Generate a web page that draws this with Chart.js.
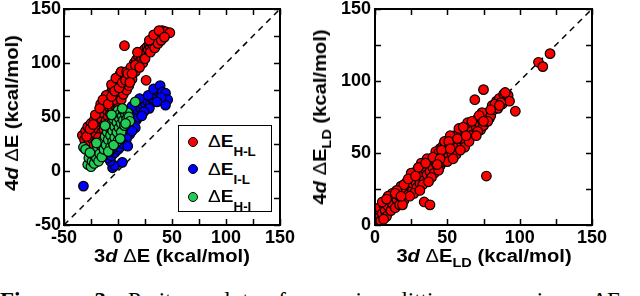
<!DOCTYPE html>
<html>
<head>
<meta charset="utf-8">
<script src="https://cdn.jsdelivr.net/npm/chart.js@4.4.1/dist/chart.umd.min.js"></script>
<style>
  html, body { margin:0; padding:0; background:#fff; }
  body { width:640px; height:296px; position:relative; overflow:hidden; font-family:"Liberation Sans", Arial, sans-serif; }
  canvas { position:absolute; }
  .t { position:absolute; font-size:18px; font-weight:bold; line-height:20px; white-space:nowrap; color:#000; }
  .t .dl { font-weight:normal; }
  .t sub { font-size:13px; vertical-align:-5px; line-height:0; }
  .rot { transform: translate(-50%,-50%) rotate(-90deg) scaleX(1.12); }
  .hc { transform: translateX(-50%) scaleX(1.12); }
  #legend { position:absolute; left:178px; top:125px; width:92px; height:85px; border:1.5px solid #000; background:#fff; }
  .li { position:absolute; left:9px; width:10px; height:10px; border-radius:50%; border:1px solid #000; box-sizing:border-box; }
  .lt { position:absolute; left:29px; font-size:17px; font-weight:bold; line-height:18px; white-space:nowrap; transform-origin:left center; transform:scaleX(1.12); }
  .lt .dl { font-weight:normal; }
  .lt sub { font-size:12px; vertical-align:-9px; line-height:0; }
  .cap { position:absolute; top:288px; font-family:"Liberation Serif", "Times New Roman", serif; font-size:23px; line-height:26px; white-space:nowrap; }
  #cap2 { white-space:normal; text-align:justify; text-align-last:justify; }
</style>
</head>
<body>
<canvas id="c1" width="320" height="292" style="left:0;top:-20px;"></canvas>
<canvas id="c2" width="320" height="292" style="left:320px;top:-20px;"></canvas>

<div class="t rot" style="left:12px;top:113px;">4<i>d</i> <span class="dl">Δ</span>E (kcal/mol)</div>
<div class="t hc" style="left:172px;top:246px;">3<i>d</i> <span class="dl">Δ</span>E (kcal/mol)</div>
<div class="t rot" style="left:320px;top:117px;">4<i>d</i> <span class="dl">Δ</span>E<sub>LD</sub> (kcal/mol)</div>
<div class="t hc" style="left:484px;top:246px;">3<i>d</i> <span class="dl">Δ</span>E<sub>LD</sub> (kcal/mol)</div>

<div id="legend">
  <div class="li" style="top:11px;background:#ff0000;"></div>
  <div class="lt" style="top:7px;"><span class="dl">Δ</span>E<sub>H-L</sub></div>
  <div class="li" style="top:38px;background:#0000ff;"></div>
  <div class="lt" style="top:34.5px;"><span class="dl">Δ</span>E<sub>I-L</sub></div>
  <div class="li" style="top:66px;background:#22cc55;"></div>
  <div class="lt" style="top:62px;"><span class="dl">Δ</span>E<sub>H-I</sub></div>
</div>

<div class="cap" style="left:0;word-spacing:24px;"><b>Figure 3.</b></div>
<div class="cap" id="cap2" style="left:128px;width:493px;">Parity plot for spin-splitting energies ΔE</div>

<script>
// ---- data (kcal/mol) ----
const leftTicks = [-50, 0, 50, 100, 150];
const rightTicks = [0, 50, 100, 150];
const leftDiag = [-50, 150];
const rightDiag = [0, 150];

const redHL = [[-33,33],[-31,29],[-30,37],[-28,41],[-27,26],[-26,34],[-25,44],[-24,30],[-23,38],[-22,47],[-21,35],[-20,42],[-20,27],[-19,50],[-18,39],[-17,46],[-16,54],[-15,36],[-15,48],[-14,57],[-13,43],[-12,52],[-12,61],[-11,47],[-10,65],[-10,56],[-9,50],[-8,68],[-8,59],[-7,53],[-7,72],[-6,63],[-5,57],[-5,76],[-4,67],[-3,61],[-3,79],[-2,71],[-1,65],[-1,83],[0,75],[0,87],[1,69],[1,80],[2,90],[2,73],[3,84],[3,66],[4,89],[4,77],[5,71],[5,86],[6,116],[6,81],[7,89],[8,75],[9,84],[10,79],[11,88],[13,85],[14,95],[15,100],[16,92],[17,103],[18,97],[19,106],[20,101],[21,108],[22,104],[23,111],[24,107],[25,113],[26,84],[26,109],[27,115],[28,112],[29,117],[30,114],[31,120],[32,117],[33,122],[34,119],[35,124],[36,121],[37,126],[38,123],[39,128],[40,125],[41,130],[42,127],[44,129],[48,128],[-18,31],[-22,24],[-13,38],[-9,44],[-4,52],[0,58],[-16,62],[-11,70],[-6,80],[-2,86],[3,92],[8,92],[12,96],[18,110],[23,100],[-29,32],[-26,39],[-23,43],[-21,52],[-17,58],[-14,66],[-9,62],[-6,69],[-3,74],[1,77],[4,82],[7,84],[9,90],[16,98],[20,96],[25,104],[30,110],[34,114],[37,118],[40,121],[29,121],[33,126],[38,130],[43,124],[13,90],[11,82]];

const blueIL = [[-32,-14],[-5,3],[-3,5],[4,8],[-7,9],[-9,12],[-12,15],[-6,14],[-3,17],[-8,18],[0,20],[-4,22],[2,22],[-1,26],[3,28],[1,31],[5,32],[-3,33],[4,36],[7,38],[2,40],[8,42],[11,40],[6,46],[10,47],[14,45],[17,47],[12,51],[15,54],[19,50],[9,55],[18,57],[21,58],[13,60],[23,61],[25,63],[27,65],[30,62],[32,67],[20,67],[35,70],[28,70],[37,74],[33,76],[39,79],[41,73],[44,72],[46,66],[44,61],[40,68],[36,64],[29,58],[24,55],[22,51],[16,40],[11,34],[8,30],[5,25],[-10,23],[-14,19],[-16,12],[-11,28],[-7,26],[0,36],[3,45],[6,52],[-2,42],[13,37],[9,23]];

const greenHI = [[-32,22],[-30,20],[-28,6],[-27,12],[-25,4],[-24,9],[-23,15],[-22,7],[-21,18],[-20,12],[-19,22],[-18,9],[-17,16],[-16,24],[-15,13],[-14,28],[-13,20],[-12,32],[-11,24],[-10,36],[-9,29],[-8,40],[-7,22],[-7,33],[-6,44],[-5,27],[-5,37],[-4,48],[-3,31],[-3,41],[-2,52],[-1,36],[-1,45],[0,56],[0,28],[1,49],[1,40],[2,53],[3,44],[3,36],[4,51],[5,47],[5,56],[6,42],[7,52],[8,48],[9,54],[10,50],[11,46],[16,64],[-26,17],[-20,26],[-9,18],[-4,24],[2,30],[-12,42],[-6,52],[4,58],[7,44]];

const redLD = [[1,11],[2,2],[3,5],[3,12],[4,3],[5,8],[6,14],[7,10],[8,6],[9,13],[10,18],[11,10],[12,15],[13,21],[14,12],[15,18],[16,24],[17,14],[17,20],[18,27],[19,22],[20,17],[21,25],[22,30],[23,21],[24,27],[25,32],[26,24],[26,29],[27,35],[28,30],[29,26],[29,38],[30,33],[31,29],[32,37],[33,40],[34,31],[34,16],[35,38],[36,35],[37,42],[38,14],[38,37],[39,45],[40,40],[41,36],[41,47],[42,43],[43,50],[44,45],[45,41],[45,53],[46,48],[47,44],[47,55],[48,50],[49,46],[49,57],[50,52],[51,48],[52,56],[53,50],[53,60],[54,55],[55,52],[55,62],[56,58],[57,54],[58,63],[59,59],[60,56],[60,66],[61,62],[62,58],[63,68],[64,64],[65,60],[66,70],[67,66],[68,63],[69,72],[69,87],[70,68],[71,74],[72,71],[73,66],[74,73],[75,94],[75,69],[76,75],[77,34],[77,72],[78,78],[79,74],[80,76],[81,83],[82,80],[84,86],[85,81],[86,88],[88,84],[89,91],[91,87],[92,90],[93,86],[97,79],[113,113],[116,110],[121,119],[12,22],[20,28],[27,22],[33,28],[39,33],[44,38],[36,46],[42,51],[48,58],[52,62],[58,67],[64,71],[66,62],[71,65],[74,78],[44,50],[50,44],[56,49],[62,54],[32,43],[24,20],[9,20],[5,16],[15,24],[19,14],[25,36],[30,40],[35,43],[40,47],[46,52],[51,58],[57,60],[61,68],[67,72],[72,76],[78,72],[83,84],[87,85],[90,92],[45,46],[54,46],[59,52],[65,58],[70,62],[31,24],[37,30],[23,32],[8,18],[6,4],[14,22],[18,20],[28,34],[43,42],[52,53],[63,62],[75,72],[80,80],[86,83]];

// ---- helpers ----
const pts = arr => arr.map(([x, y]) => ({x, y}));
const diag = arr => arr.map(v => ({x: v, y: v}));

Chart.defaults.font.family = '"Liberation Sans", Arial, sans-serif';
Chart.defaults.color = '#000';

const frameTicks = {
  id: 'frameTicks',
  afterDraw(chart, args, opts) {
    const {ctx, chartArea: a, scales: {x, y}} = chart;
    const L = 6;
    ctx.save();
    ctx.strokeStyle = '#000';
    ctx.lineWidth = 1.5;
    ctx.beginPath();
    for (let v = x.min; v <= x.max + 1e-9; v += opts.minor) {
      const px = Math.round(x.getPixelForValue(v)) + 0.5;
      ctx.moveTo(px, a.bottom); ctx.lineTo(px, a.bottom - L);
      ctx.moveTo(px, a.top); ctx.lineTo(px, a.top + L);
    }
    for (let v = y.min; v <= y.max + 1e-9; v += opts.minor) {
      const py = Math.round(y.getPixelForValue(v)) + 0.5;
      ctx.moveTo(a.left, py); ctx.lineTo(a.left + L, py);
      ctx.moveTo(a.right, py); ctx.lineTo(a.right - L, py);
    }
    ctx.stroke();
    ctx.lineWidth = 2;
    ctx.strokeRect(a.left, a.top, a.right - a.left, a.bottom - a.top);
    ctx.restore();
  }
};

function scatterSet(data, color, order) {
  return {
    data: pts(data), backgroundColor: color, borderColor: '#000',
    borderWidth: 1.2, pointRadius: 4.8, pointHoverRadius: 4.8, order
  };
}
function diagSet(arr) {
  return {
    data: diag(arr), showLine: true, borderColor: '#000', borderWidth: 1.5,
    borderDash: [6, 5], pointRadius: 0, order: 10, fill: false
  };
}
function axis(ticks, min, max, pos, pad, size) {
  const o = {
    type: 'linear', position: pos, min, max,
    grid: { display: false, drawTicks: false, tickLength: 0 },
    border: { display: false },
    afterBuildTicks: s => { s.ticks = ticks.map(v => ({value: v})); },
    ticks: { autoSkip: false, maxRotation: 0, padding: pad, font: { size: 18, weight: 'bold' }, color: '#000' }
  };
  if (pos === 'left') o.afterFit = s => { s.width = size; };
  else o.afterFit = s => { s.height = size; };
  return o;
}

new Chart(document.getElementById('c1'), {
  type: 'scatter',
  data: { datasets: [
    diagSet(leftDiag),
    scatterSet(redHL, '#ff0000', 3),
    scatterSet(blueIL, '#0000ff', 2),
    scatterSet(greenHI, '#22cc55', 1)
  ]},
  options: {
    responsive: false, animation: false, devicePixelRatio: 1,
    layout: { padding: { left: 0, right: 40, top: 29, bottom: 0 } },
    plugins: { legend: { display: false }, tooltip: { enabled: false }, frameTicks: { minor: 25 } },
    scales: {
      x: axis(leftTicks, -50, 150, 'bottom', 2, 47),
      y: axis(leftTicks, -50, 150, 'left', 3, 64)
    }
  },
  plugins: [frameTicks]
});

new Chart(document.getElementById('c2'), {
  type: 'scatter',
  data: { datasets: [
    diagSet(rightDiag),
    scatterSet(redLD, '#ff0000', 1)
  ]},
  options: {
    responsive: false, animation: false, devicePixelRatio: 1,
    layout: { padding: { left: 0, right: 48, top: 29, bottom: 0 } },
    plugins: { legend: { display: false }, tooltip: { enabled: false }, frameTicks: { minor: 25 } },
    scales: {
      x: axis(rightTicks, 0, 150, 'bottom', 2, 47),
      y: axis(rightTicks, 0, 150, 'left', 4, 55)
    }
  },
  plugins: [frameTicks]
});
</script>
</body>
</html>
